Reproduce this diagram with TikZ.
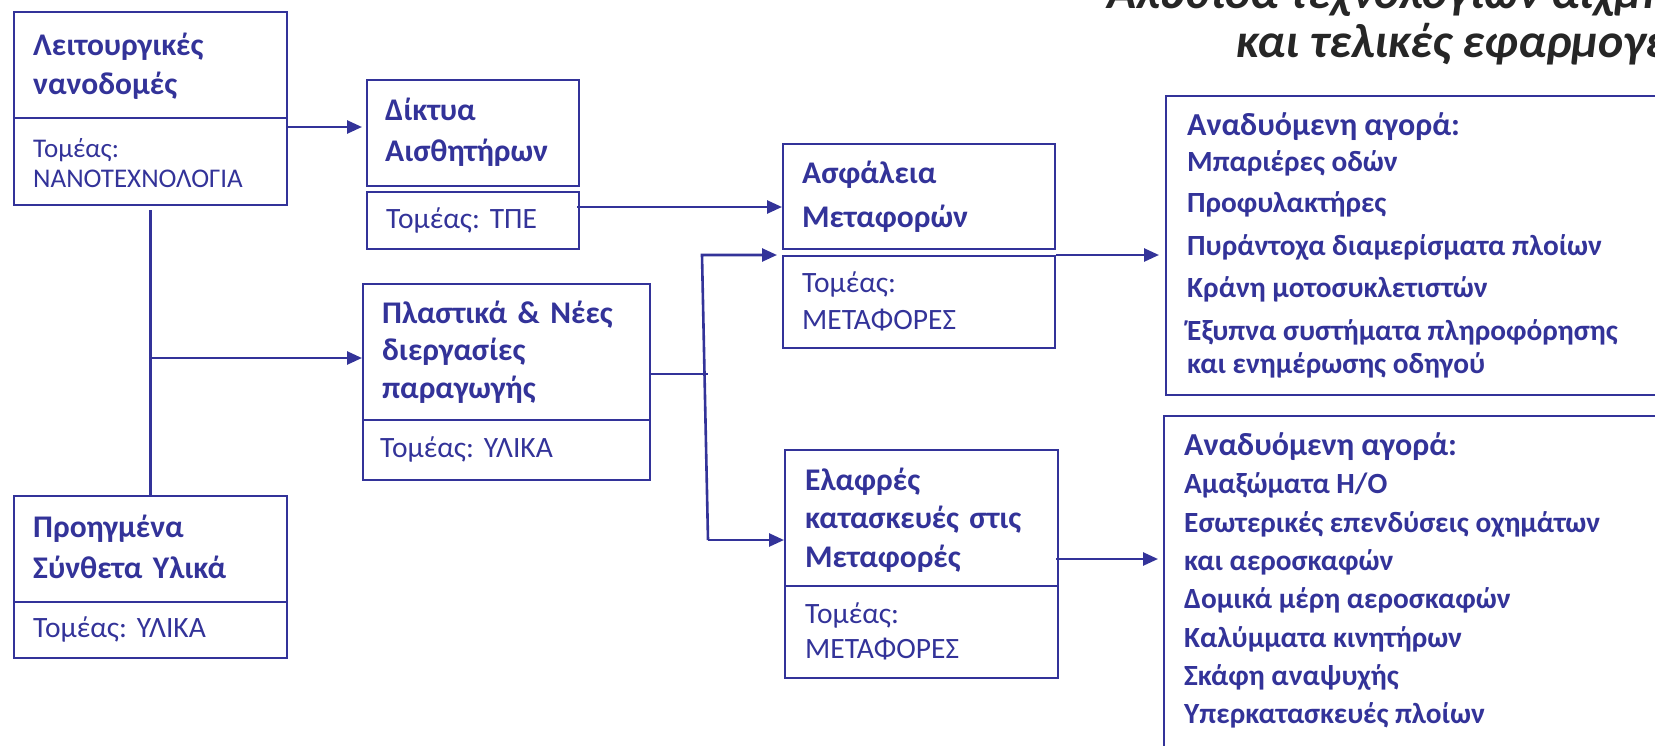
\documentclass[tikz,border=0pt]{standalone}
\usepackage{fontspec}
\setmainfont{Carlito}
\usetikzlibrary{arrows.meta}
\definecolor{navy}{HTML}{333399}
\definecolor{ink}{HTML}{262626}
\begin{document}
\frenchspacing
\begin{tikzpicture}[x=1pt,y=-1pt,
  frame/.style={draw=navy, line width=2pt, anchor=north west, inner sep=0pt},
  ttl/.style={anchor=base west, inner sep=0pt, text=navy, text width=250pt, align=left,
    font=\bfseries\fontsize{31.5}{39}\selectfont},
  sec/.style={anchor=base west, inner sep=0pt, text=navy, text width=250pt, align=left,
    font=\fontsize{29.5}{37}\selectfont},
  mhead/.style={anchor=base west, inner sep=0pt, text=navy, font=\bfseries\fontsize{32}{38}\selectfont},
  item/.style={anchor=base west, inner sep=0pt, text=navy, font=\bfseries\fontsize{29.3}{35}\selectfont},
  wire/.style={draw=navy, line width=2.6pt},
  link/.style={wire, -{Triangle[length=15pt,width=13pt]}},
  heading/.style={anchor=base west, inner sep=0pt, text=ink, font=\bfseries\itshape\fontsize{48}{56}\selectfont}
]
\path[use as bounding box] (0,0) rectangle (1655,745);
\clip (0,0) rectangle (1655,745);

% --- boxes ---
\node[frame, minimum width=273pt, minimum height=106pt] (fnT) at (13,11) {};
\node[frame, minimum width=273pt, minimum height=87pt]  (fnS) at (13,117) {};
\node[frame, minimum width=212pt, minimum height=106pt] (snT) at (366,79) {};
\node[frame, minimum width=212pt, minimum height=57pt]  (snS) at (366,191) {};
\node[frame, minimum width=287pt, minimum height=136pt] (plT) at (362,283) {};
\node[frame, minimum width=287pt, minimum height=60pt]  (plS) at (362,419) {};
\node[frame, minimum width=273pt, minimum height=106pt] (acT) at (13,495) {};
\node[frame, minimum width=273pt, minimum height=56pt]  (acS) at (13,601) {};
\node[frame, minimum width=272pt, minimum height=105pt] (saT) at (782,143) {};
\node[frame, minimum width=272pt, minimum height=92pt]  (saS) at (782,255) {};
\node[frame, minimum width=273pt, minimum height=136pt] (ltT) at (784,449) {};
\node[frame, minimum width=273pt, minimum height=92pt]  (ltS) at (784,585) {};
\node[frame, minimum width=520pt, minimum height=299pt] (mk1) at (1165,95) {};
\node[frame, minimum width=520pt, minimum height=360pt] (mk2) at (1163,415) {};

% --- box texts ---
\node[ttl] (fnTt) at (33,55) {Λειτουργικές\\νανοδομές};
\node[sec, font=\fontsize{27}{30.5}\selectfont] (fnSt) at (33,157) {Τομέας:\\ΝΑΝΟΤΕΧΝΟΛΟΓΙΑ};
\node[ttl, font=\bfseries\fontsize{31.5}{41}\selectfont] (snTt) at (385,120) {Δίκτυα\\Αισθητήρων};
\node[sec] (snSt) at (386,228) {Τομέας: ΤΠΕ};
\node[ttl, font=\bfseries\fontsize{31.5}{37.5}\selectfont] (plTt) at (382,323) {Πλαστικά \& Νέες\\διεργασίες\\παραγωγής};
\node[sec] (plSt) at (380,457) {Τομέας: ΥΛΙΚΑ};
\node[ttl, font=\bfseries\fontsize{31.5}{41}\selectfont] (acTt) at (33,537) {Προηγμένα\\Σύνθετα Υλικά};
\node[sec] (acSt) at (33,637) {Τομέας: ΥΛΙΚΑ};
\node[ttl, font=\bfseries\fontsize{31.5}{44}\selectfont] (saTt) at (802,183) {Ασφάλεια\\Μεταφορών};
\node[sec] (saSt) at (802,292) {Τομέας:\\ΜΕΤΑΦΟΡΕΣ};
\node[ttl, font=\bfseries\fontsize{31.5}{38.5}\selectfont] (ltTt) at (805,490) {Ελαφρές\\κατασκευές στις\\Μεταφορές};
\node[sec, font=\fontsize{29.5}{35}\selectfont] (ltSt) at (805,623) {Τομέας:\\ΜΕΤΑΦΟΡΕΣ};

% --- market lists ---
\node[mhead] (m1h) at (1187,135) {Αναδυόμενη αγορά:};
\node[item] (m1a) at (1187,171) {Μπαριέρες οδών};
\node[item] (m1b) at (1187,212) {Προφυλακτήρες};
\node[item] (m1c) at (1187,255) {Πυράντοχα διαμερίσματα πλοίων};
\node[item] (m1d) at (1187,297) {Κράνη μοτοσυκλετιστών};
\node[item] (m1e) at (1187,340) {Έξυπνα συστήματα πληροφόρησης};
\node[item] (m1f) at (1187,373) {και ενημέρωσης οδηγού};

\node[mhead] (m2h) at (1184,455) {Αναδυόμενη αγορά:};
\node[item] (m2a) at (1184,493) {Αμαξώματα Η/Ο};
\node[item] (m2b) at (1184,532) {Εσωτερικές επενδύσεις οχημάτων};
\node[item] (m2c) at (1184,570) {και αεροσκαφών};
\node[item] (m2d) at (1184,608) {Δομικά μέρη αεροσκαφών};
\node[item] (m2e) at (1184,647) {Καλύμματα κινητήρων};
\node[item] (m2f) at (1184,685) {Σκάφη αναψυχής};
\node[item] (m2g) at (1184,723) {Υπερκατασκευές πλοίων};

% --- heading ---
\node[heading] (hd1) at (1107,8) {Αλυσίδα τεχνολογιών αιχμής};
\node[heading] (hd2) at (1236,57) {και τελικές εφαρμογές};

% --- connectors ---
\coordinate (a1) at ([yshift=-10pt]fnS.north east);
\draw[link, shorten >=4pt] (a1) -- (a1 -| snT.west);

\coordinate (a2) at ([yshift=-16pt,xshift=-3pt]snS.north east);
\draw[link] (a2) -- (a2 -| saT.west);

\draw[wire] ([yshift=-4pt]fnS.south) -- (acT.north);
\coordinate (b1) at (fnS.south |- 0,358);
\draw[link] (b1) -- (b1 -| plT.west);

\coordinate (j0) at (708,374);
\coordinate (jt) at (702,255);
\coordinate (jb) at (708,540);
\draw[wire] (plT.east |- j0) -- (j0);
\draw[link, shorten >=5pt] (jb) -- (jt) -- (jt -| saS.west);
\draw[link] (jb) -- (jb -| ltT.west);

\draw[link, shorten >=6pt] (saS.north east) -- (saS.north east -| mk1.west);
\coordinate (a8) at ([yshift=-110pt,xshift=-3pt]ltT.north east);
\draw[link, shorten >=5pt] (a8) -- (a8 -| mk2.west);
\end{tikzpicture}
\end{document}
